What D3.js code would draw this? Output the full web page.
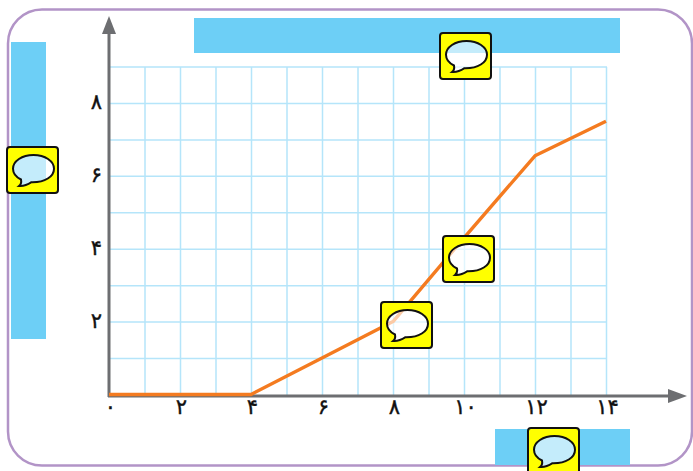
<!DOCTYPE html>
<html lang="fa">
<head>
<meta charset="utf-8">
<script src="https://d3js.org/d3.v7.min.js"></script>
<style>
    html, body { margin: 0; padding: 0; background: #fff; overflow: hidden; }
    svg { display: block; }
    .tick text { font-family: "DejaVu Sans", sans-serif; fill: #111; stroke: #111; stroke-width: 0.4px; letter-spacing: 3px; }
</style>
</head>
<body>
<script>
    // values
    var xValues = [0, 4, 6, 8, 10, 12, 14];
    var yValues = [0, 0, 1, 2, 4.3, 6.55, 7.5];
    var xLabels = [0, 2, 4, 6, 8, 10, 12, 14];
    var yLabels = [2, 4, 6, 8];
    var xGrid = d3.range(1, 15);
    var yGrid = d3.range(1, 10);

    var width = 693, height = 471;
    var svg = d3.select('body').append('svg').attr('width', width).attr('height', height);

    var x = d3.scaleLinear().domain([0, 14]).range([110, 607]);
    var y = d3.scaleLinear().domain([0, 9]).range([395, 67]);

    // persian digits for the tick labels
    function fa(n) {
        return String(n).replace(/\d/g, function(c) { return '۰۱۲۳۴۵۶۷۸۹'[+c]; });
    }

    // outer frame, runs up to the right edge of the page
    svg.append('rect')
        .attr('x', 8).attr('y', 9.5).attr('width', 684).attr('height', 456)
        .attr('rx', 34).attr('ry', 34)
        .attr('fill', '#fff').attr('stroke', '#b294c7').attr('stroke-width', 2.5);

    // blue answer boxes
    var boxes = [[194, 18, 426, 35], [11, 42, 35, 297], [495, 429, 135, 36]];
    svg.selectAll('rect.box').data(boxes).join('rect')
        .attr('class', 'box')
        .attr('x', function(d) { return d[0]; })
        .attr('y', function(d) { return d[1]; })
        .attr('width', function(d) { return d[2]; })
        .attr('height', function(d) { return d[3]; })
        .attr('fill', '#6dcff6');

    // grid
    var grid = svg.append('g').attr('stroke', '#b5e5fa').attr('stroke-width', 1.5);
    grid.selectAll('line.v').data(xGrid).join('line')
        .attr('class', 'v')
        .attr('x1', function(d) { return x(d) - 0.5; }).attr('x2', function(d) { return x(d) - 0.5; })
        .attr('y1', y(9)).attr('y2', y(0));
    grid.selectAll('line.h').data(yGrid).join('line')
        .attr('class', 'h')
        .attr('x1', x(0)).attr('x2', x(14))
        .attr('y1', function(d) { return y(d); }).attr('y2', function(d) { return y(d); });

    // axes, labels only, the arrows are drawn after
    var xAxis = svg.append('g').attr('transform', 'translate(0,' + y(0) + ')')
        .call(d3.axisBottom(x).tickValues(xLabels).tickFormat(fa).tickSize(0).tickPadding(4));
    var yAxis = svg.append('g').attr('transform', 'translate(' + x(0) + ',-1.5)')
        .call(d3.axisLeft(y).tickValues(yLabels).tickFormat(fa).tickSize(0).tickPadding(8));
    xAxis.select('.domain').remove();
    yAxis.select('.domain').remove();
    svg.selectAll('.tick text').style('font-size', '21px');

    var axisColor = '#6d6e71';
    svg.append('line').attr('x1', 109).attr('y1', 397).attr('x2', 109).attr('y2', 30)
        .attr('stroke', axisColor).attr('stroke-width', 3);
    svg.append('line').attr('x1', 108).attr('y1', 396).attr('x2', 672).attr('y2', 396)
        .attr('stroke', axisColor).attr('stroke-width', 3);
    svg.append('path').attr('d', 'M109,16L116,34H102Z').attr('fill', axisColor);
    svg.append('path').attr('d', 'M687,396L668,389V403Z').attr('fill', axisColor);

    // the orange line
    var line = d3.line()
        .x(function(d, i) { return x(xValues[i]); })
        .y(function(d, i) { return y(yValues[i]); });
    svg.append('path').datum(xValues)
        .attr('d', line)
        .attr('transform', 'translate(-1,-0.5)')
        .attr('fill', 'none')
        .attr('stroke', '#f47b20')
        .attr('stroke-width', 3.4)
        .attr('stroke-linejoin', 'round');

    // yellow comment icons, the bubble is a hole in the yellow with a pale layer in it
    var bubble = 'M14,32.5C14.5,35 14,37.5 12,39C16.5,39.5 21,37.5 24.5,35.2C38,35.5 47,29.5 47,21.7C47,14 38,8 26.5,8C15,8 6,14 6,21.7C6,26 9,30 14,32.5Z';
    var plate = 'M3,0H48a3,3 0 0 1 3,3V43a3,3 0 0 1 -3,3H3a3,3 0 0 1 -3,-3V3a3,3 0 0 1 3,-3Z';
    var icons = [[7, 147], [440, 33], [381, 302], [443, 236], [528, 428]];
    var icon = svg.selectAll('g.icon').data(icons).join('g')
        .attr('class', 'icon')
        .attr('transform', function(d) { return 'translate(' + d[0] + ',' + d[1] + ')'; });
    icon.append('path').attr('d', plate + bubble)
        .attr('fill', '#ffff00').attr('fill-rule', 'evenodd');
    icon.append('path').attr('d', plate)
        .attr('fill', 'none').attr('stroke', '#111').attr('stroke-width', 2);
    icon.append('path').attr('d', bubble)
        .attr('fill', '#fff').attr('fill-opacity', 0.6)
        .attr('stroke', '#111').attr('stroke-width', 2);
</script>
</body>
</html>
